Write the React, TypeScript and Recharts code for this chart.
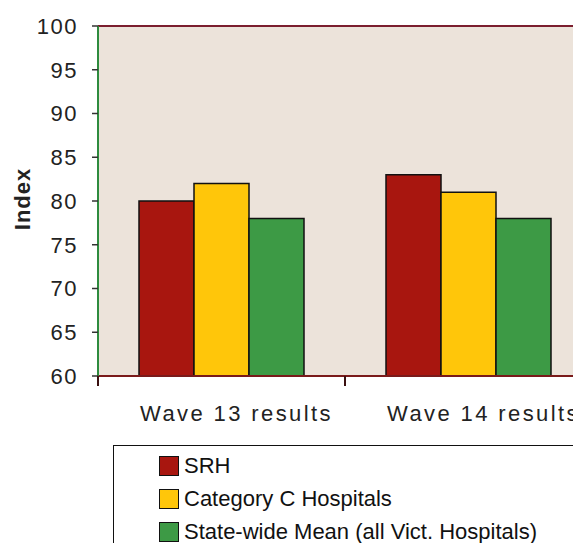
import { BarChart, Bar, XAxis, YAxis, CartesianGrid, ReferenceLine, Legend, Label } from "recharts";

const waves = ["Wave 13 results", "Wave 14 results"];
const srh = [80, 83];
const categoryC = [82, 81];
const stateMean = [78, 78];
const yTicks = [60, 65, 70, 75, 80, 85, 90, 95, 100];

const seriesNames = ["SRH", "Category C Hospitals", "State-wide Mean (all Vict. Hospitals)"];
const seriesColors = ["#A8160F", "#FFC60A", "#3D9A45"];

const data = waves.map((wave, i) => ({
  wave,
  srh: srh[i],
  categoryC: categoryC[i],
  stateMean: stateMean[i],
}));

const FONT = '"Liberation Sans", Arial, sans-serif';

// category label centred in the band, tick mark on the band's left edge
function WaveTick(props: any) {
  const { x, y, payload } = props;
  const half = payload?.offset ?? 0;
  const axisY = y - 29;
  return (
    <g>
      <line x1={x - half} y1={axisY} x2={x - half} y2={axisY + 10} stroke="#3a1010" strokeWidth={2} />
      <text
        x={x}
        y={y}
        dx={15}
        dy="0.71em"
        textAnchor="middle"
        fontFamily={FONT}
        fontSize={22}
        letterSpacing={2.4}
        fill="#222"
      >
        {payload.value}
      </text>
    </g>
  );
}

function IndexLabel(props: any) {
  const vb = props.viewBox || { x: 0, y: 26, width: 98, height: 350 };
  const cx = 22;
  const cy = vb.y + vb.height / 2 - 2;
  return (
    <text
      x={cx}
      y={cy}
      transform={`rotate(-90, ${cx}, ${cy})`}
      textAnchor="middle"
      dominantBaseline="central"
      fontFamily={FONT}
      fontSize={22}
      fontWeight="bold"
      letterSpacing={1}
      fill="#222"
    >
      Index
    </text>
  );
}

// legend keeps the series order (the default sorter would alphabetise it)
function LegendBox() {
  return (
    <div
      style={{
        border: "1.5px solid #111",
        background: "#fff",
        padding: "3px 0 0 45px",
        height: 140,
        boxSizing: "border-box",
        fontFamily: FONT,
        fontSize: 22,
        color: "#111",
      }}
    >
      {seriesNames.map((name, i) => (
        <div key={name} style={{ display: "flex", alignItems: "center", height: 33 }}>
          <span
            style={{
              display: "inline-block",
              width: 18,
              height: 18,
              background: seriesColors[i],
              border: "1.5px solid #111",
              marginRight: 5,
            }}
          />
          <span>{name}</span>
        </div>
      ))}
    </div>
  );
}

export default function App() {
  return (
    <div
      style={{
        margin: -8,
        width: 581,
        height: 551,
        overflow: "hidden",
        position: "relative",
        background: "#fff",
        fontFamily: FONT,
      }}
    >
      <BarChart
        width={640}
        height={551}
        data={data}
        margin={{ top: 26, right: 48, left: 0, bottom: 135 }}
        barCategoryGap="16.6%"
        barGap={0}
      >
        <CartesianGrid horizontal={false} vertical={false} fill="#ECE3DA" />
        <XAxis
          dataKey="wave"
          height={40}
          axisLine={{ stroke: "#7A1A1A", strokeWidth: 2 }}
          tickLine={false}
          tickSize={10}
          tickMargin={19}
          interval={0}
          tick={<WaveTick />}
        />
        <YAxis
          width={98}
          domain={[60, 100]}
          ticks={yTicks}
          interval={0}
          allowDataOverflow
          axisLine={{ stroke: "#2E8B3E", strokeWidth: 2 }}
          tickLine={{ stroke: "#333", strokeWidth: 1.5 }}
          tickSize={6}
          tickMargin={14}
          tick={{ fontFamily: FONT, fontSize: 22, fill: "#222", letterSpacing: 1.5 }}
        >
          <Label content={<IndexLabel />} />
        </YAxis>
        <ReferenceLine y={100} stroke="#7B1E2E" strokeWidth={2} />
        <Legend
          layout="vertical"
          align="center"
          verticalAlign="middle"
          wrapperStyle={{ top: 445, left: 113, width: 520 }}
          content={<LegendBox />}
        />
        <Bar dataKey="srh" name={seriesNames[0]} fill={seriesColors[0]} stroke="#111" strokeWidth={1.5} isAnimationActive={false} />
        <Bar dataKey="categoryC" name={seriesNames[1]} fill={seriesColors[1]} stroke="#111" strokeWidth={1.5} isAnimationActive={false} />
        <Bar dataKey="stateMean" name={seriesNames[2]} fill={seriesColors[2]} stroke="#111" strokeWidth={1.5} isAnimationActive={false} />
      </BarChart>
    </div>
  );
}
